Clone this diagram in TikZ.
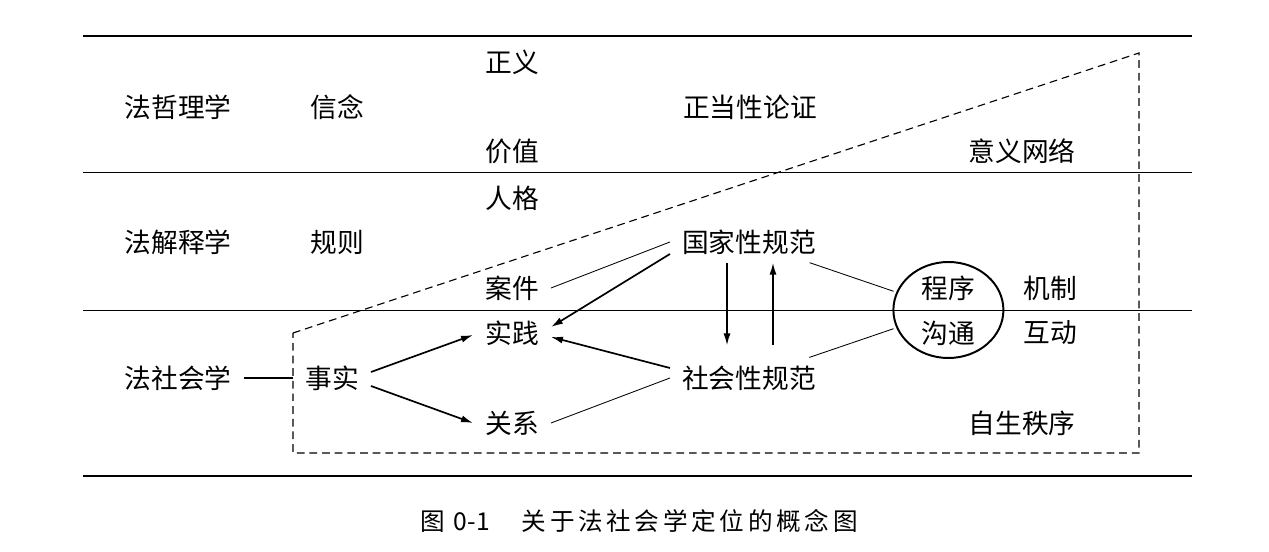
\documentclass[tikz,border=0pt]{standalone}
\usepackage{fontspec}
\newfontfamily\cjk{Noto Sans CJK SC}
\newfontfamily\cjkcap[LetterSpace=15]{Noto Sans CJK SC}
\usetikzlibrary{arrows.meta,shapes.geometric}

\tikzset{every picture/.append style={font=\cjk\fontsize{19pt}{19pt}\selectfont}}

\begin{document}
\begin{tikzpicture}[word/.style={inner xsep=0.3cm,inner ysep=0.2cm},
    arr/.style={line width=1.2pt,-{Latex[length=8.5pt,width=5pt]}},
    thin_line/.style={line width=0.6pt},
    rule_line/.style={line width=1.5pt},
    box_line/.style={line width=0.8pt,dash pattern=on 5.5pt off 3.5pt}]
    \useasboundingbox (0,0) rectangle (31.725,13.8);
    \draw[rule_line] (2.075,12.9) -- (29.8,12.9);
    \draw[rule_line] (2.075,1.9) -- (29.8,1.9);
    \draw[thin_line] (2.075,9.5) -- (29.8,9.5);
    \draw[thin_line] (2.075,6.05) -- (29.8,6.05);
    \draw[box_line] (7.325,5.475) -- (28.475,12.475) -- (28.475,2.475) -- (7.325,2.475) -- cycle;
    \coordinate (box_left) at (7.325,4.35);
    \node[word] (fa_zhexue) at (4.45,11.125) {法哲理学};
    \node[word] (xinnian) at (8.425,11.125) {信念};
    \node[word] (zhengyi) at (12.8,12.25) {正义};
    \node[word] (lunzheng) at (18.75,11.125) {正当性论证};
    \node[word] (jiazhi) at (12.8,10.025) {价值};
    \node[word] (yiyi_wangluo) at (25.55,10.025) {意义网络};
    \node[word] (renge) at (12.8,8.85) {人格};
    \node[word] (fa_jieshi) at (4.45,7.75) {法解释学};
    \node[word] (guize) at (8.425,7.75) {规则};
    \node[word] (guojia) at (18.725,7.75) {国家性规范};
    \node[word] (anjian) at (12.8,6.6) {案件};
    \node[word] (jizhi) at (26.25,6.6) {机制};
    \node[word] (shijian) at (12.8,5.475) {实践};
    \node[word] (hudong) at (26.25,5.475) {互动};
    \node[word] (fa_shehui) at (4.45,4.35) {法社会学};
    \node[word] (shishi) at (8.3,4.35) {事实};
    \node[word] (shehui) at (18.725,4.35) {社会性规范};
    \node[word] (guanxi) at (12.8,3.225) {关系};
    \node[word] (zisheng) at (25.55,3.225) {自生秩序};
    \node[draw,ellipse,line width=1.4pt,minimum width=2.75cm,minimum height=2.4cm,inner sep=0] (circ) at (23.71,6.05) {};
    \node[inner sep=0] (chengxu) at (23.7,6.6) {程序};
    \node[inner sep=0] (goutong) at (23.7,5.475) {沟通};
    \node[inner sep=0,font=\cjk\fontsize{17.5pt}{17.5pt}\selectfont] (caption_text) at (15.98,0.775) {图\hspace{0.35em}0-1\hspace{1.3em}{\cjkcap 关于法社会学定位的概念图}};
    \draw[line width=1.2pt] (fa_shehui.east) -- (box_left);
    \draw[arr] ([yshift=0.15cm]shishi.east) -- ([yshift=-0.05cm]shijian.west);
    \draw[arr] ([yshift=-0.2cm]shishi.east) -- (guanxi.west);
    \draw[arr] ([yshift=-0.3cm]guojia.west) -- ([yshift=0.15cm]shijian.east);
    \draw[arr] ([yshift=0.25cm]shehui.west) -- ([yshift=-0.1cm]shijian.east);
    \draw[arr,shorten >=0.3cm] ([xshift=-0.55cm]guojia.south) -- ([xshift=-0.55cm]shehui.north);
    \draw[arr,shorten <=0.3cm] ([xshift=0.6cm]shehui.north) -- ([xshift=0.6cm]guojia.south);
    \draw[thin_line] (anjian.east) -- (guojia.west);
    \draw[thin_line] (guanxi.east) -- (shehui.west);
    \draw[thin_line,shorten >=2pt] (guojia) -- (circ);
    \draw[thin_line,shorten >=2pt] (shehui) -- (circ);
  \end{tikzpicture}
\end{document}
